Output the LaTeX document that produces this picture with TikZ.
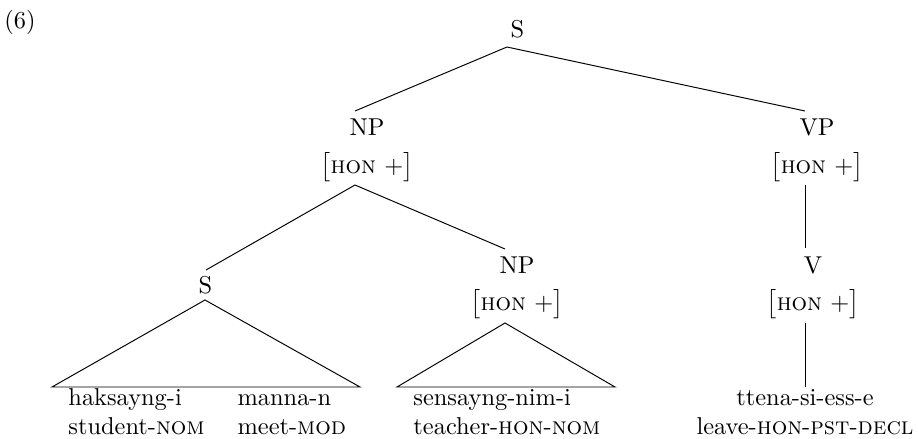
\documentclass[tikz,border=0pt]{standalone}
\usepackage{amsmath,amssymb}
\usepackage{tikz}

\newcommand{\honplus}{$\bigl[\textsc{hon}\ +\bigr]$}

\begin{document}
\begin{tikzpicture}[x=0.41pt,
            y=-0.41pt,
            cat/.style={inner sep=0pt,anchor=base},
            feat/.style={inner sep=0pt,anchor=base},
            gloss/.style={inner sep=0pt,anchor=base west}]

        \useasboundingbox (0,0) rectangle (918,439);

        \node[gloss]   (ex)   at (4,28)     {(6)};

        % category labels
        \node[cat]     (s)    at (517.5,37) {S};
        \node[cat]     (np)   at (367,135)  {NP};
        \node[feat]    (npf)  at (367,173)  {\honplus};
        \node[cat]     (vp)   at (817,135)  {VP};
        \node[feat]    (vpf)  at (817,173)  {\honplus};
        \node[cat]     (s2)   at (205.5,293){S};
        \node[cat]     (np2)  at (517,273)  {NP};
        \node[feat]    (np2f) at (517,310)  {\honplus};
        \node[cat]     (v)    at (813,273)  {V};
        \node[feat]    (vf)   at (813,310)  {\honplus};

        % words and glosses
        \node[gloss]   (w1)   at (68,405)
            {\begin{tabular}[t]{@{}l@{\hspace{13.5pt}}l@{}}
             haksayng-i & manna-n\\
             student-\textsc{nom} & meet-\textsc{mod}
             \end{tabular}};
        \node[gloss]   (w2)   at (413,405)
            {\begin{tabular}[t]{@{}l@{}}
             sensayng-nim-i\\
             teacher-\textsc{hon}-\textsc{nom}
             \end{tabular}};
        \node[cat]     (w3)   at (805,405)
            {\begin{tabular}[t]{@{}c@{}}
             ttena-si-ess-e\\
             leave-\textsc{hon}-\textsc{pst}-\textsc{decl}
             \end{tabular}};

        % branch ends
        \coordinate (s-dn)    at (507,47);
        \coordinate (np-up)   at (355,111);
        \coordinate (vp-up)   at (805,111);
        \coordinate (npf-dn)  at (355,185);
        \coordinate (s2-up)   at (206,270);
        \coordinate (np2-up)  at (505,249);
        \coordinate (vpf-dn)  at (805,185);
        \coordinate (v-up)    at (805,248);
        \coordinate (vf-dn)   at (805,323);
        \coordinate (w3-up)   at (805,387);
        \coordinate (s2-dn)   at (205,300);
        \coordinate (s2-l)    at (52,387);
        \coordinate (s2-r)    at (360,387);
        \coordinate (np2f-dn) at (505,323);
        \coordinate (np2-l)   at (397,387);
        \coordinate (np2-r)   at (615,387);

        \path (s-dn)   edge (np-up)
                       edge (vp-up)
              (npf-dn) edge (s2-up)
                       edge (np2-up)
              (vpf-dn) edge (v-up)
              (vf-dn)  edge (w3-up);

        \draw (s2-dn) -- (s2-l) -- (s2-r) -- cycle;
        \draw (np2f-dn) -- (np2-l) -- (np2-r) -- cycle;

    \end{tikzpicture}
\end{document}
